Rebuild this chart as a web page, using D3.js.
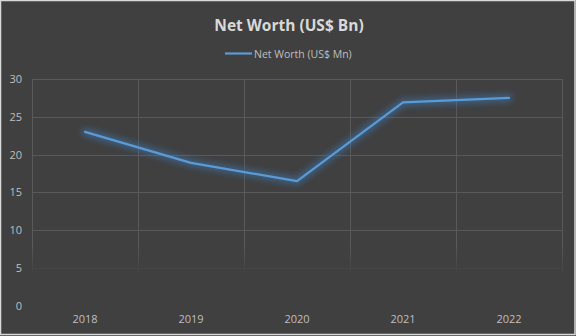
<!DOCTYPE html>
<html><head><meta charset="utf-8">
<script src="https://cdn.jsdelivr.net/npm/d3@7"></script>
<style>html,body{margin:0;padding:0;background:#404040;}svg{display:block;}</style>
</head><body>
<script>
const categories = ["2018","2019","2020","2021","2022"];
const netWorth = [23.0, 18.9, 16.5, 26.9, 27.5];
const yTicks = [0,5,10,15,20,25,30];
const title = "Net Worth (US$ Bn)";
const seriesName = "Net Worth (US$ Mn)";

const W=576,H=336;
const svg=d3.select("body").append("svg").attr("width",W).attr("height",H);
svg.append("rect").attr("x",0.5).attr("y",0.5).attr("width",W-1.5).attr("height",H-2).attr("fill","#404040").attr("stroke","#d9d9d9").attr("stroke-width",1.5);

const m={l:32,r:562,t:79,b:305.8};
const x=d3.scaleBand().domain(categories).range([m.l,m.r]);
const y=d3.scaleLinear().domain([0,30]).range([m.b,m.t]);

const defs=svg.append("defs");
const lg=defs.append("linearGradient").attr("id","fade").attr("gradientUnits","userSpaceOnUse").attr("x1",0).attr("y1",0).attr("x2",0).attr("y2",H);
lg.append("stop").attr("offset",246/H).attr("stop-color","#fff").attr("stop-opacity",1);
lg.append("stop").attr("offset",275/H).attr("stop-color","#fff").attr("stop-opacity",0);
defs.append("mask").attr("id","gm").attr("maskUnits","userSpaceOnUse").attr("x",0).attr("y",0).attr("width",W).attr("height",H)
  .append("rect").attr("width",W).attr("height",H).attr("fill","url(#fade)");
const f=defs.append("filter").attr("id","glow").attr("x","-20%").attr("y","-50%").attr("width","140%").attr("height","200%");
f.append("feGaussianBlur").attr("in","SourceGraphic").attr("stdDeviation",3.2);

const grid=svg.append("g").attr("mask","url(#gm)");
grid.selectAll(".h").data(yTicks).join("line")
  .attr("x1",m.l).attr("x2",m.r).attr("y1",d=>Math.round(y(d))+0.5).attr("y2",d=>Math.round(y(d))+0.5)
  .attr("stroke","#595959").attr("stroke-width",1);
const vx=categories.map(c=>x(c)).concat([x(categories[categories.length-1])+x.bandwidth()]);
grid.selectAll(".v").data(vx).join("line")
  .attr("x1",d=>Math.round(d)+0.5).attr("x2",d=>Math.round(d)+0.5).attr("y1",m.t).attr("y2",m.b)
  .attr("stroke","#595959").attr("stroke-width",1);

const yAxis=d3.axisLeft(y).tickValues(yTicks).tickSize(0).tickPadding(0);
const ya=svg.append("g").attr("transform",`translate(${m.l-10},0)`).call(yAxis);
ya.select(".domain").remove();
ya.selectAll("text").attr("fill","#bfbfbf").attr("font-family","Open Sans, sans-serif").attr("font-size",11).attr("text-anchor","end").attr("dy","0.32em");

const xAxis=d3.axisBottom(x).tickSize(0).tickPadding(0);
const xa=svg.append("g").attr("transform",`translate(0,${m.b+14})`).call(xAxis);
xa.select(".domain").remove();
xa.selectAll("text").attr("fill","#bfbfbf").attr("font-family","Open Sans, sans-serif").attr("font-size",11).attr("dy","0.32em");

const line=d3.line().x((d,i)=>x(categories[i])+x.bandwidth()/2).y(d=>y(d));
svg.append("path").datum(netWorth).attr("d",line).attr("fill","none").attr("stroke","#3a78b8").attr("stroke-opacity",0.6).attr("stroke-width",7).attr("stroke-linecap","round").attr("filter","url(#glow)");
svg.append("path").datum(netWorth).attr("d",line).attr("fill","none").attr("stroke","#5b9bd5").attr("stroke-width",2.2).attr("stroke-linejoin","round").attr("stroke-linecap","round");

svg.append("text").attr("x",289).attr("y",25).attr("text-anchor","middle").attr("dominant-baseline","central")
  .attr("fill","#d9d9d9").attr("font-family","Open Sans, sans-serif").attr("font-weight","bold").attr("font-size",15.5).text(title);

svg.append("line").attr("x1",225).attr("x2",252).attr("y1",53.5).attr("y2",53.5).attr("stroke","#5b9bd5").attr("stroke-width",2.2);
svg.append("text").attr("x",254).attr("y",53.5).attr("dominant-baseline","central")
  .attr("fill","#bfbfbf").attr("font-family","Open Sans, sans-serif").attr("font-size",10.5).text(seriesName);
</script>
</body></html>
